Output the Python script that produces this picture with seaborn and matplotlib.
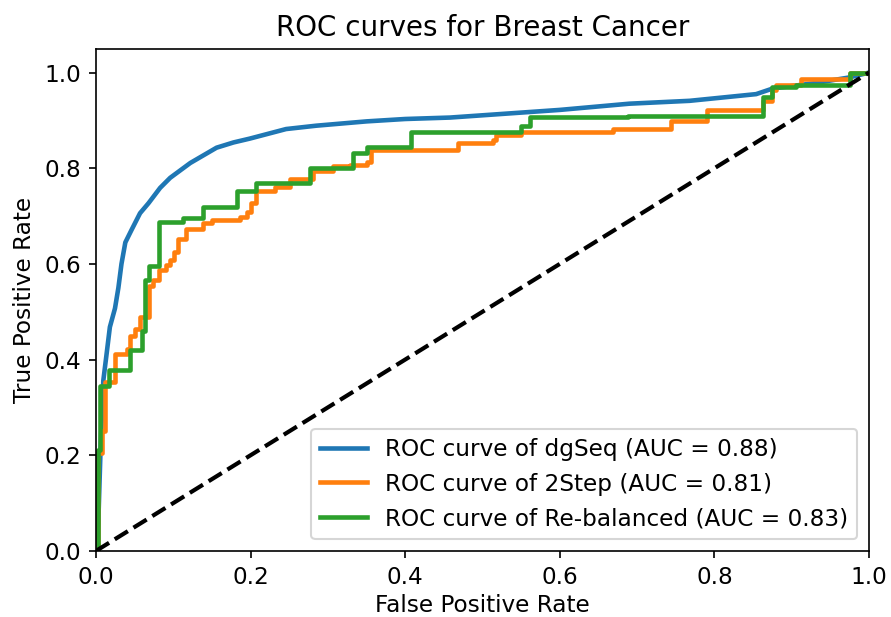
import matplotlib
matplotlib.use("Agg")
import matplotlib.pyplot as plt
import seaborn as sns
import pandas as pd

# ROC points (false positive rate, true positive rate) for each model
dgseq_fpr = [0, 0.001, 0.003, 0.006, 0.0095, 0.014, 0.018, 0.0246, 0.029, 0.033, 0.038, 0.046,
             0.057, 0.068, 0.083, 0.096, 0.122, 0.156, 0.178, 0.199, 0.246, 0.285,
             0.35, 0.4, 0.458, 0.6, 0.69, 0.768, 0.854, 0.876, 0.93, 0.975, 1.0]
dgseq_tpr = [0, 0.02, 0.057, 0.216, 0.356, 0.415, 0.468, 0.507, 0.55, 0.60, 0.645, 0.671,
             0.706, 0.727, 0.759, 0.78, 0.811, 0.843, 0.854, 0.862, 0.882, 0.889,
             0.898, 0.903, 0.906, 0.922, 0.935, 0.941, 0.955, 0.967, 0.978, 0.99, 1.0]

twostep_fpr = [0, 0.002, 0.002, 0.008, 0.008, 0.012, 0.012, 0.025, 0.025, 0.040, 0.040,
               0.044, 0.044, 0.051, 0.051, 0.057, 0.057, 0.069, 0.069, 0.074, 0.074,
               0.081, 0.081, 0.091, 0.091, 0.096, 0.096, 0.101, 0.101, 0.106, 0.106,
               0.117, 0.117, 0.139, 0.139, 0.150, 0.150, 0.186, 0.186, 0.196, 0.196,
               0.201, 0.201, 0.207, 0.207, 0.231, 0.231, 0.251, 0.251, 0.281, 0.281,
               0.307, 0.307, 0.328, 0.328, 0.350, 0.350, 0.356, 0.356, 0.468, 0.468,
               0.514, 0.514, 0.518, 0.518, 0.550, 0.550, 0.669, 0.669, 0.744, 0.744,
               0.790, 0.790, 0.863, 0.863, 0.874, 0.874, 0.880, 0.880, 0.912, 0.912,
               0.975, 0.975, 1.0]
twostep_tpr = [0, 0, 0.205, 0.205, 0.25, 0.25, 0.353, 0.353, 0.412, 0.412, 0.423,
               0.423, 0.449, 0.449, 0.463, 0.463, 0.489, 0.489, 0.553, 0.553, 0.566,
               0.566, 0.588, 0.588, 0.597, 0.597, 0.608, 0.608, 0.625, 0.625, 0.653,
               0.653, 0.674, 0.674, 0.686, 0.686, 0.692, 0.692, 0.699, 0.699, 0.709,
               0.709, 0.727, 0.727, 0.753, 0.753, 0.760, 0.760, 0.778, 0.778, 0.795,
               0.795, 0.804, 0.804, 0.807, 0.807, 0.814, 0.814, 0.838, 0.838, 0.852,
               0.852, 0.860, 0.860, 0.869, 0.869, 0.876, 0.876, 0.883, 0.883, 0.898,
               0.898, 0.921, 0.921, 0.940, 0.940, 0.963, 0.963, 0.974, 0.974, 0.986,
               0.986, 1.0, 1.0]

rebal_fpr = [0, 0.002, 0.002, 0.005, 0.005, 0.017, 0.017, 0.044, 0.044, 0.059, 0.059,
             0.064, 0.064, 0.068, 0.068, 0.082, 0.082, 0.113, 0.113, 0.139, 0.139,
             0.182, 0.182, 0.207, 0.207, 0.277, 0.277, 0.333, 0.333, 0.350, 0.350,
             0.407, 0.407, 0.550, 0.550, 0.561, 0.561, 0.688, 0.688, 0.863, 0.863,
             0.874, 0.874, 0.906, 0.906, 0.975, 0.975, 1.0]
rebal_tpr = [0, 0, 0.21, 0.21, 0.345, 0.345, 0.379, 0.379, 0.421, 0.421, 0.46,
             0.46, 0.567, 0.567, 0.595, 0.595, 0.688, 0.688, 0.697, 0.697, 0.718,
             0.718, 0.753, 0.753, 0.769, 0.769, 0.800, 0.800, 0.831, 0.831, 0.844,
             0.844, 0.875, 0.875, 0.889, 0.889, 0.907, 0.907, 0.910, 0.910, 0.948,
             0.948, 0.969, 0.969, 0.974, 0.974, 1.0, 1.0]

model_names = ["dgSeq", "2Step", "Re-balanced"]
auc_values = [0.88, 0.81, 0.83]
line_colors = ["#1f77b4", "#ff7f0e", "#2ca02c"]
curves = [(dgseq_fpr, dgseq_tpr), (twostep_fpr, twostep_tpr), (rebal_fpr, rebal_tpr)]

plt.rcParams.update({
    "font.size": 11.1,
    "axes.titlesize": 13.3,
    "axes.labelsize": 11.1,
    "xtick.labelsize": 11.1,
    "ytick.labelsize": 11.1,
    "legend.fontsize": 11.1,
})

fig = plt.figure(figsize=(891 / 150, 617 / 150), dpi=150)
ax = fig.add_axes([0.1077, 0.1071, 0.8676, 0.8140])

for (fpr, tpr), name, auc, color in zip(curves, model_names, auc_values, line_colors):
    df = pd.DataFrame({"fpr": fpr, "tpr": tpr})
    sns.lineplot(data=df, x="fpr", y="tpr", sort=False, estimator=None,
                 color=color, lw=2.2, ax=ax,
                 label=f"ROC curve of {name} (AUC = {auc:.2f})")

# chance line
ax.plot([0, 1], [0, 1], "k--", lw=2)

ax.set_xlim(0.0, 1.0)
ax.set_ylim(0.0, 1.05)
ax.set_xticks([0.0, 0.2, 0.4, 0.6, 0.8, 1.0])
ax.set_yticks([0.0, 0.2, 0.4, 0.6, 0.8, 1.0])
ax.set_xlabel("False Positive Rate", labelpad=2.5)
ax.set_ylabel("True Positive Rate")
ax.set_title("ROC curves for Breast Cancer")
ax.legend(loc="lower right")

fig.savefig("out.png", dpi=150)
